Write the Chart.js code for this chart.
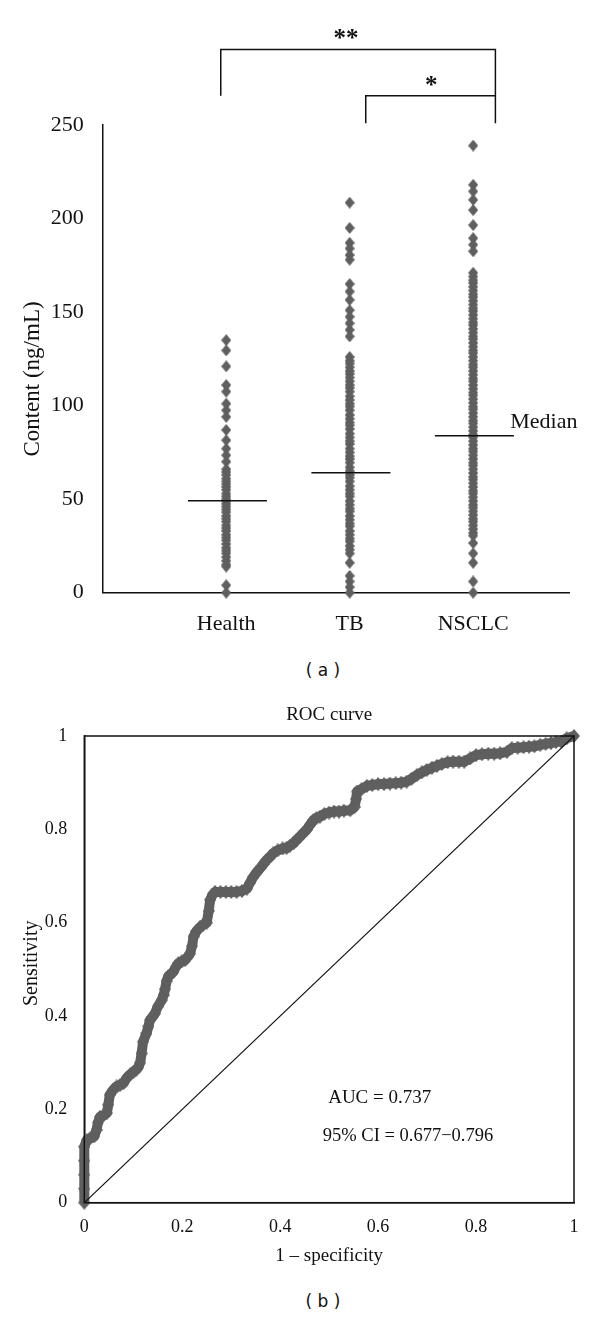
<!DOCTYPE html>
<html>
<head>
<meta charset="utf-8">
<script src="https://cdn.jsdelivr.net/npm/chart.js@4.4.0/dist/chart.umd.min.js"></script>
<style>
  html, body { margin: 0; padding: 0; background: #fff; }
  body { width: 600px; height: 1318px; position: relative; overflow: hidden; }
  #scatterChart { position: absolute; left: 0; top: 0; }
  #rocChart { position: absolute; left: 0; top: 690px; }
  .panel { position: absolute; font-family: 'DejaVu Sans', sans-serif; font-size: 17px; color: #111;
           transform: translate(-50%, -50%); white-space: pre; }
</style>
</head>
<body>
<canvas id="scatterChart" width="600" height="640"></canvas>
<canvas id="rocChart" width="600" height="600"></canvas>
<div class="panel" style="left:323px; top:670px">( a )</div>
<div class="panel" style="left:323px; top:1301px">( b )</div>

<script>
// ---- data ----
const groups = ['Health', 'TB', 'NSCLC'];
const healthValues = [135, 129.5, 121, 111, 107.5, 101, 97.5, 94, 87, 81.5, 77, 73.5, 70, 66, 64.5, 63, 61, 59.5,
  58, 56.5, 55, 53, 51.5, 50, 49, 47.5, 46, 44.5, 43, 41, 39.5, 38, 36, 34.5, 33, 31, 29.5, 28, 26, 24, 22.5, 21,
  19, 17, 15, 14, 4, 0];
const tbValues = [208.5, 195, 187, 184, 180.5, 178, 165, 161, 156.5, 151, 147.5, 144, 140.5, 137, 126, 124, 122.5,
  120.5, 118.5, 117, 115, 113, 111, 109.5, 107.5, 105, 103, 101, 99.5, 97.5, 95, 93, 91, 89.5, 87.5, 85, 83, 81,
  79.5, 77, 75, 73, 71.5, 69.5, 67, 65, 63, 61.5, 59.5, 57, 55, 53, 51.5, 49, 47, 45, 43.5, 41, 39, 37, 35.5, 33,
  31, 29, 27.5, 25, 23, 21, 16, 9, 6, 3, 0];
const nsclcValues = [239, 218, 214.5, 210, 204.5, 196.5, 189.5, 186, 182.5, 171, 169, 167, 165.5, 163.5, 161.5,
  159.5, 158, 156, 154, 152, 150.5, 148.5, 146.5, 144.5, 143, 141, 139, 137, 135.5, 133.5, 131.5, 129.5, 128, 126,
  124, 122, 120.5, 118.5, 116.5, 114.5, 113, 111, 109, 107, 105.5, 103.5, 101.5, 99.5, 98, 96, 94, 92, 90.5, 88.5,
  86.5, 84.5, 83, 81, 79, 77, 75.5, 73.5, 71.5, 69.5, 68, 66, 64, 62, 60.5, 58.5, 56.5, 54.5, 53, 51, 49, 47, 45.5,
  43.5, 41.5, 39.5, 38, 36, 34, 32, 30.5, 26.5, 21, 16, 6, 0];
const medians = [49.2, 64.1, 83.9];

const rocFpr = [0, 0, 0, 0, 0, 0.005, 0.012, 0.02, 0.025, 0.028, 0.032, 0.04, 0.046, 0.049, 0.052, 0.059, 0.066,
  0.073, 0.08, 0.087, 0.094, 0.1, 0.106, 0.11, 0.114, 0.117, 0.12, 0.127, 0.131, 0.134, 0.139, 0.144, 0.15, 0.158,
  0.162, 0.165, 0.168, 0.172, 0.177, 0.182, 0.187, 0.192, 0.199, 0.206, 0.212, 0.216, 0.22, 0.223, 0.229, 0.236,
  0.243, 0.25, 0.254, 0.257, 0.262, 0.267, 0.278, 0.289, 0.3, 0.311, 0.322, 0.332, 0.338, 0.345, 0.352, 0.36, 0.366,
  0.372, 0.38, 0.386, 0.395, 0.405, 0.413, 0.42, 0.427, 0.434, 0.44, 0.447, 0.454, 0.461, 0.468, 0.474, 0.481, 0.49,
  0.5, 0.51, 0.52, 0.53, 0.543, 0.552, 0.555, 0.557, 0.566, 0.577, 0.588, 0.6, 0.612, 0.624, 0.636, 0.647, 0.658,
  0.668, 0.679, 0.689, 0.699, 0.71, 0.72, 0.73, 0.742, 0.753, 0.765, 0.776, 0.788, 0.8, 0.812, 0.825, 0.837, 0.849,
  0.863, 0.873, 0.885, 0.897, 0.908, 0.919, 0.931, 0.942, 0.953, 0.963, 0.974, 0.985, 1];
const rocSens = [0, 0.03, 0.06, 0.09, 0.12, 0.134, 0.138, 0.142, 0.156, 0.172, 0.184, 0.188, 0.192, 0.21, 0.231,
  0.242, 0.249, 0.252, 0.256, 0.268, 0.275, 0.28, 0.285, 0.29, 0.3, 0.32, 0.345, 0.363, 0.378, 0.391, 0.398, 0.405,
  0.42, 0.434, 0.445, 0.458, 0.475, 0.486, 0.49, 0.495, 0.505, 0.513, 0.517, 0.52, 0.528, 0.534, 0.55, 0.57, 0.582,
  0.59, 0.596, 0.6, 0.625, 0.649, 0.66, 0.666, 0.666, 0.666, 0.666, 0.666, 0.668, 0.673, 0.685, 0.698, 0.708, 0.718,
  0.726, 0.734, 0.742, 0.749, 0.755, 0.759, 0.76, 0.765, 0.77, 0.778, 0.784, 0.792, 0.799, 0.81, 0.82, 0.824, 0.827,
  0.833, 0.836, 0.838, 0.838, 0.84, 0.841, 0.848, 0.865, 0.881, 0.886, 0.893, 0.895, 0.897, 0.897, 0.898, 0.899,
  0.9, 0.902, 0.908, 0.916, 0.922, 0.927, 0.932, 0.936, 0.94, 0.944, 0.945, 0.945, 0.945, 0.952, 0.959, 0.961,
  0.962, 0.962, 0.963, 0.966, 0.974, 0.975, 0.976, 0.977, 0.978, 0.981, 0.983, 0.985, 0.987, 0.988, 0.995, 1];
const aucLabel = 'AUC = 0.737';
const ciLabel = '95% CI = 0.677\u22120.796';

// ---- styles ----
const SERIF = "'Liberation Serif', 'Times New Roman', serif";
const INK = '#111';
const MARKER = '#5f5f5f';

function makeDiamond(w, h, color) {
  const c = document.createElement('canvas');
  c.width = w; c.height = h;
  const g = c.getContext('2d');
  g.fillStyle = color;
  g.beginPath();
  g.moveTo(w / 2, 0); g.lineTo(w, h / 2); g.lineTo(w / 2, h); g.lineTo(0, h / 2);
  g.closePath();
  g.fill();
  return c;
}
const diamond = makeDiamond(10, 12, MARKER);
const rocDiamond = makeDiamond(12, 14, MARKER);

// tick text without trailing ".0"
const plainTick = v => String(Number(v.toFixed(1)));

// ---- (a) content scatter ----
const groupValues = [healthValues, tbValues, nsclcValues];

const scatterExtras = {
  id: 'scatterExtras',
  afterDraw(chart) {
    const { ctx, scales: { x, y } } = chart;
    ctx.save();
    // significance brackets
    const xl = x.getPixelForValue(0.956), xm = x.getPixelForValue(2.13), xr = x.getPixelForValue(3.18);
    const yTop = y.getPixelForValue(290.4), yMid = y.getPixelForValue(265.6), yLow = y.getPixelForValue(250.9);
    ctx.strokeStyle = INK;
    ctx.lineWidth = 1.5;
    ctx.beginPath();
    ctx.moveTo(xl, yMid); ctx.lineTo(xl, yTop); ctx.lineTo(xr, yTop); ctx.lineTo(xr, yLow);
    ctx.moveTo(xm, yLow); ctx.lineTo(xm, yMid); ctx.lineTo(xr, yMid);
    ctx.stroke();

    ctx.fillStyle = INK;
    ctx.textAlign = 'center';
    ctx.textBaseline = 'alphabetic';
    ctx.font = 'bold 25px ' + SERIF;
    ctx.fillText('**', x.getPixelForValue(1.97), yTop - 3);
    ctx.fillText('*', x.getPixelForValue(2.66), yMid - 3);

    // median label
    ctx.font = '22px ' + SERIF;
    ctx.textAlign = 'left';
    ctx.fillText('Median', x.getPixelForValue(3.3), y.getPixelForValue(medians[2]) - 7.5);

    // y title
    ctx.translate(33, 379);
    ctx.rotate(-Math.PI / 2);
    ctx.textAlign = 'center';
    ctx.textBaseline = 'middle';
    ctx.font = '23px ' + SERIF;
    ctx.fillText('Content (ng/mL)', 0, 0);
    ctx.restore();
  }
};

new Chart(document.getElementById('scatterChart'), {
  type: 'scatter',
  data: {
    datasets: [
      ...medians.map((m, i) => ({
        data: [{ x: i + 1 - 0.31, y: m }, { x: i + 1 + 0.33, y: m }],
        showLine: true,
        borderColor: INK,
        borderWidth: 1.5,
        pointRadius: 0
      })),
      ...groupValues.map((vals, i) => ({
        label: groups[i],
        data: vals.map(v => ({ x: i + 1, y: v })),
        pointStyle: diamond,
        pointRadius: 6,
        clip: false
      }))
    ]
  },
  options: {
    responsive: false,
    animation: false,
    layout: { padding: { top: 125, right: 31, left: 0, bottom: 0 } },
    plugins: { legend: { display: false }, tooltip: { enabled: false } },
    scales: {
      x: {
        type: 'linear', min: 0, max: 3.776,
        grid: { display: false },
        border: { color: INK, width: 1.5 },
        afterBuildTicks: s => { s.ticks = groups.map((g, i) => ({ value: i + 1 })); },
        ticks: {
          callback: v => groups[v - 1] || '',
          font: { family: SERIF, size: 22 }, color: INK, padding: 10, maxRotation: 0, autoSkip: false
        },
        afterFit: s => { s.height = 47.3; }
      },
      y: {
        min: 0, max: 250,
        grid: { display: false },
        border: { color: INK, width: 1.5 },
        ticks: { stepSize: 50, font: { family: SERIF, size: 22 }, color: INK, padding: 11 },
        afterFit: s => { s.width = 102.7; }
      }
    }
  },
  plugins: [scatterExtras]
});

// ---- (b) ROC curve ----
const rocExtras = {
  id: 'rocExtras',
  afterDraw(chart) {
    const { ctx, chartArea: a, scales: { x, y } } = chart;
    ctx.save();
    ctx.strokeStyle = INK;
    ctx.lineWidth = 1.5;
    ctx.strokeRect(a.left, a.top, a.right - a.left, a.bottom - a.top);

    ctx.fillStyle = INK;
    ctx.textBaseline = 'middle';
    ctx.textAlign = 'center';
    ctx.font = '19px ' + SERIF;
    ctx.fillText('ROC curve', (a.left + a.right) / 2, a.top - 21);
    ctx.fillText('1 \u2013 specificity', (a.left + a.right) / 2, a.bottom + 53);

    ctx.textAlign = 'left';
    ctx.fillText(aucLabel, x.getPixelForValue(0.498), y.getPixelForValue(0.224));
    ctx.font = '18.5px ' + SERIF;
    ctx.fillText(ciLabel, x.getPixelForValue(0.487), y.getPixelForValue(0.143));

    ctx.translate(31.7, 273.3);
    ctx.rotate(-Math.PI / 2);
    ctx.textAlign = 'center';
    ctx.font = '20px ' + SERIF;
    ctx.fillText('Sensitivity', 0, 0);
    ctx.restore();
  }
};

new Chart(document.getElementById('rocChart'), {
  type: 'scatter',
  data: {
    datasets: [
      {
        data: [{ x: 0, y: 0 }, { x: 1, y: 1 }],
        showLine: true,
        borderColor: INK,
        borderWidth: 1.2,
        pointRadius: 0
      },
      {
        data: rocFpr.map((f, i) => ({ x: f, y: rocSens[i] })),
        showLine: true,
        borderColor: MARKER,
        borderWidth: 10,
        borderJoinStyle: 'round',
        pointStyle: rocDiamond,
        pointRadius: 7,
        clip: false
      }
    ]
  },
  options: {
    responsive: false,
    animation: false,
    layout: { padding: { top: 46, right: 26, left: 0, bottom: 0 } },
    plugins: { legend: { display: false }, tooltip: { enabled: false } },
    scales: {
      x: {
        min: 0, max: 1,
        grid: { display: false },
        border: { color: INK, width: 1.5 },
        ticks: { stepSize: 0.2, callback: plainTick, font: { family: SERIF, size: 18 }, color: INK, padding: 6, maxRotation: 0 },
        afterFit: s => { s.height = 87.3; }
      },
      y: {
        min: 0, max: 1,
        grid: { display: false },
        border: { color: INK, width: 1.5 },
        ticks: { stepSize: 0.2, callback: plainTick, font: { family: SERIF, size: 18 }, color: INK, padding: 9 },
        afterFit: s => { s.width = 84.3; }
      }
    }
  },
  plugins: [rocExtras]
});
</script>
</body>
</html>
